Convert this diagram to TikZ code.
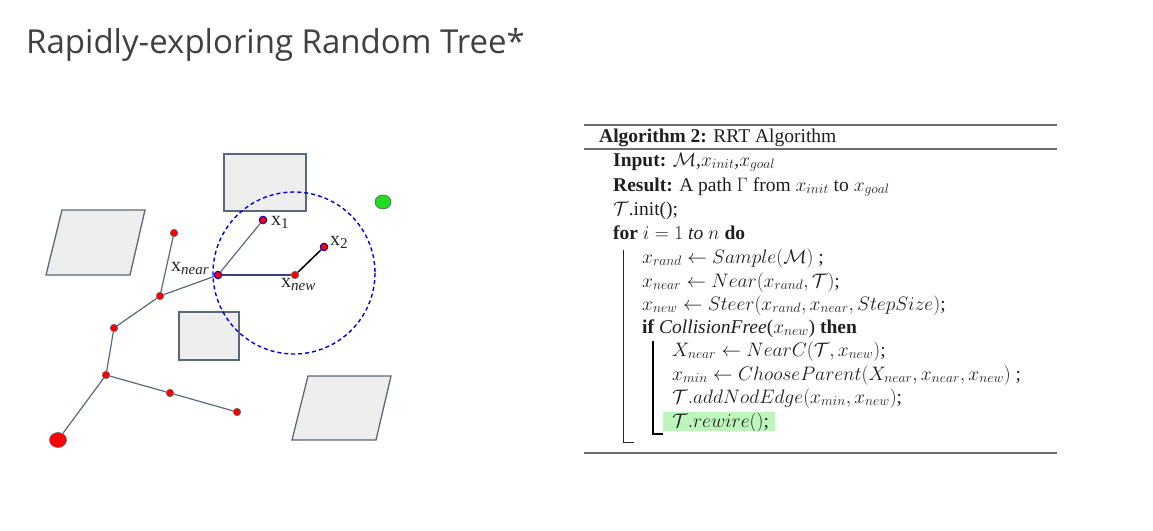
\documentclass[tikz,border=0pt]{standalone}
\usepackage{fix-cm}
\usepackage{fontspec}
\setmainfont{Liberation Serif}
\newfontfamily\headfont{Open Sans}
\usetikzlibrary{shapes.geometric}
\definecolor{headgray}{HTML}{404040}
\definecolor{obsfill}{HTML}{EEEEEE}
\definecolor{obsline}{HTML}{5B6878}
\definecolor{edgecol}{HTML}{5A6A7E}
\definecolor{bestedge}{HTML}{3C3C8C}
\definecolor{rulegray}{HTML}{6E6E6E}
\definecolor{hlgreen}{HTML}{BDF5BD}
\definecolor{goalgreen}{HTML}{22DD22}
% a point name: upright x with a smaller subscript
\newcommand{\ptname}[1]{x\raisebox{-0.35ex}{\fontsize{15}{15}\selectfont #1}}
\tikzset{
  obstacle/.style={draw=obsline, fill=obsfill, line width=1.3pt, line join=miter},
  treeedge/.style={draw=edgecol, line width=1.2pt},
  vertex/.style={circle, fill=red, draw=gray!80!black, line width=0.6pt, inner sep=0pt, minimum size=7.5pt},
  nearvertex/.style={vertex, draw=blue!80!black, line width=1pt},
  rootvertex/.style={ellipse, fill=red, draw=gray!80!black, line width=0.6pt, inner sep=0pt, minimum width=17pt, minimum height=15pt},
  goal/.style={ellipse, fill=goalgreen, draw=gray!70!black, line width=0.6pt, inner sep=0pt, minimum width=16pt, minimum height=14pt},
  nbhood/.style={draw=blue!90!black, line width=1.4pt, dash pattern=on 4pt off 3pt},
  ptlabel/.style={font=\fontsize{20}{22}\selectfont, inner sep=0pt, text=black!85, anchor=base west},
  algline/.style={anchor=base west, inner sep=0pt, font=\fontsize{19.5}{22}\selectfont, text=black!88},
  rulecol/.style={draw=rulegray},
}
\begin{document}
\begin{tikzpicture}[x=1pt, y=-1pt]
\useasboundingbox (0,0) rectangle (1153,530);

% heading
\node[anchor=base west, inner sep=0pt, font=\headfont\fontsize{33}{38}\selectfont, text=headgray] (heading) at (26,53) {Rapidly-exploring Random Tree*};

% obstacles
\draw[obstacle] (224,154) rectangle (306,211);
\draw[obstacle] (179,312) rectangle (239,360);
\draw[obstacle] (62,210) -- (145,210) -- (130,275) -- (46,275) -- cycle;
\draw[obstacle] (308,376) -- (391,376) -- (376,440) -- (292,440) -- cycle;

% neighbourhood of the new node
\draw[nbhood] (294,273) circle[radius=81];

% goal
\node[goal] (goal) at (383,202) {};

% tree vertices
\node[rootvertex] (root) at (58,440) {};
\node[vertex] (d) at (106,375) {};
\node[vertex] (c) at (114,328) {};
\node[vertex] (b) at (160,296) {};
\node[vertex] (a) at (174,233) {};
\node[vertex] (e) at (170,393) {};
\node[vertex] (f) at (237,412) {};
\node[nearvertex] (xnear) at (218,275) {};
\node[nearvertex] (xone) at (263,220) {};
\node[nearvertex] (xtwo) at (324,247) {};
\node[vertex] (xnew) at (295,275) {};

% tree edges
\draw[treeedge] (root) -- (d);
\draw[treeedge] (d) -- (c);
\draw[treeedge] (c) -- (b);
\draw[treeedge] (b) -- (a);
\draw[treeedge] (b) -- (xnear);
\draw[treeedge] (d) -- (e);
\draw[treeedge] (e) -- (f);
\draw[treeedge] (xnear) -- (xone);
\draw[draw=bestedge, line width=2pt] (xnear) -- (xnew);
\draw[draw=black, line width=1.5pt] (xnew) -- (xtwo);

% vertex labels
\node[ptlabel] (lnear) at (171,271) {\ptname{\itshape near}};
\node[ptlabel] (lone) at (271,225) {\ptname{1}};
\node[ptlabel] (ltwo) at (330,245) {\ptname{2}};
\node[ptlabel] (lnew) at (281,287) {\ptname{\itshape new}};

% algorithm block
\draw[rulecol, line width=2pt] (584,125) -- (1057,125);
\draw[rulecol, line width=1.5pt] (584,149) -- (1057,149);
\draw[rulecol, line width=2.5pt] (584,453) -- (1057,453);
\fill[hlgreen] (663,412) rectangle (775,431);
\draw[black!85, line width=1pt] (623,250) -- (623,442) -- (634,442);
\draw[black, line width=1.2pt] (653,341) -- (653,434) -- (663,434);

\node[algline] (l0) at (599,142) {\textbf{Algorithm 2:} RRT Algorithm};
\node[algline] (l1) at (613,166) {\textbf{Input:} $\mathcal{M}$,$x_{init}$,$x_{goal}$};
\node[algline] (l2) at (613,191) {\textbf{Result:} A path $\Gamma$ from $x_{init}$ to $x_{goal}$};
\node[algline] (l3) at (613,215) {$\mathcal{T}$.init();};
\node[algline] (l4) at (613,239) {\textbf{for} $i=1$ \textit{to} $n$ \textbf{do}};
\node[algline] (l5) at (642,263) {$x_{rand} \leftarrow Sample(\mathcal{M})$ ;};
\node[algline] (l6) at (642,287) {$x_{near} \leftarrow Near(x_{rand},\mathcal{T})$;};
\node[algline] (l7) at (642,310) {$x_{new} \leftarrow Steer(x_{rand},x_{near},StepSize)$;};
\node[algline] (l8) at (642,333) {\textbf{if} \textit{CollisionFree}($x_{new}$) \textbf{then}};
\node[algline] (l9) at (672,356) {$X_{near} \leftarrow NearC(\mathcal{T},x_{new})$;};
\node[algline] (l10) at (672,380) {$x_{min} \leftarrow ChooseParent(X_{near},x_{near},x_{new})$ ;};
\node[algline] (l11) at (672,403) {$\mathcal{T}.addNodEdge(x_{min},x_{new})$;};
\node[algline] (l12) at (672,427) {$\mathcal{T}.rewire()$;};
\end{tikzpicture}
\end{document}
